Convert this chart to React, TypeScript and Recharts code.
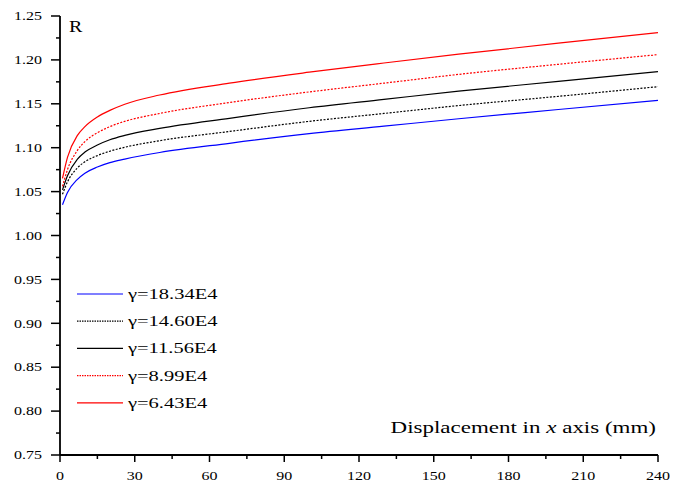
import { LineChart, Line, XAxis, YAxis, Legend, Label } from 'recharts';

// displacement along x (mm) where the curves were read
const xValues = [1, 3, 7, 10, 15, 20, 26, 40, 68, 100, 130, 160, 200, 240];

// R for each gamma
const g1834 = [1.035, 1.049, 1.064, 1.071, 1.078, 1.083, 1.087, 1.0945, 1.105, 1.116, 1.1245, 1.133, 1.1435, 1.154];
const g1460 = [1.047, 1.061, 1.077, 1.084, 1.091, 1.096, 1.1005, 1.108, 1.1185, 1.13, 1.139, 1.148, 1.1585, 1.1695];
const g1156 = [1.052, 1.068, 1.087, 1.095, 1.103, 1.109, 1.114, 1.122, 1.1335, 1.1455, 1.155, 1.1645, 1.1755, 1.1866];
const g899 = [1.056, 1.075, 1.097, 1.107, 1.117, 1.124, 1.13, 1.139, 1.1515, 1.1635, 1.1735, 1.1835, 1.195, 1.206];
const g643 = [1.065, 1.089, 1.114, 1.124, 1.135, 1.1425, 1.1495, 1.16, 1.1735, 1.186, 1.1965, 1.2065, 1.219, 1.231];

const xTicks = [0, 15, 30, 45, 60, 75, 90, 105, 120, 135, 150, 165, 180, 195, 210, 225, 240];
const yTicks = [
  0.75, 0.775, 0.8, 0.825, 0.85, 0.875, 0.9, 0.925, 0.95, 0.975, 1.0,
  1.025, 1.05, 1.075, 1.1, 1.125, 1.15, 1.175, 1.2, 1.225, 1.25,
];

const series = [
  { key: 'g1834', label: 'γ=18.34E4', values: g1834, color: '#0000ff', dash: undefined },
  { key: 'g1460', label: 'γ=14.60E4', values: g1460, color: '#000000', dash: '2 1.5' },
  { key: 'g1156', label: 'γ=11.56E4', values: g1156, color: '#000000', dash: undefined },
  { key: 'g899', label: 'γ=8.99E4', values: g899, color: '#ff0000', dash: '2 1.5' },
  { key: 'g643', label: 'γ=6.43E4', values: g643, color: '#ff0000', dash: undefined },
];

const data = xValues.map((x, i) => {
  const row: Record<string, number> = { x };
  series.forEach(s => { row[s.key] = s.values[i]; });
  return row;
});

const FONT = '"Liberation Serif", "Times New Roman", serif';
const SQ = 0.76; // the original text is a bit squashed vertically

function YTick({ x, y, payload }: any) {
  const v = payload.value;
  const major = Math.round(v * 1000) % 50 === 0;
  return (
    <g>
      <line x1={x} x2={x - (major ? 9 : 4)} y1={y} y2={y} stroke="#000" strokeWidth={1.5} />
      {major && (
        <text transform={`translate(${x - 18},${y + 4.2}) scale(1,${SQ})`} textAnchor="end"
          fontSize={16} fontFamily={FONT} fill="#000">
          {v.toFixed(2)}
        </text>
      )}
    </g>
  );
}

function XTick({ x, y, payload }: any) {
  const v = payload.value;
  const major = v % 30 === 0;
  return (
    <g>
      <line x1={x} x2={x} y1={y} y2={y + (major ? 7 : 4)} stroke="#000" strokeWidth={1.5} />
      {major && (
        <text transform={`translate(${x},${y + 25}) scale(1,${SQ})`} textAnchor="middle"
          fontSize={16} fontFamily={FONT} fill="#000">
          {v}
        </text>
      )}
    </g>
  );
}

function LegendBox() {
  return (
    <svg width={170} height={140}>
      {series.map((s, i) => {
        const cy = 14 + i * 27.2;
        return (
          <g key={s.key}>
            <line x1={7} x2={53} y1={cy} y2={cy} stroke={s.color} strokeWidth={1.2}
              strokeDasharray={s.dash ? '1.5 1' : undefined} />
            <text transform={`translate(58,${cy + 5}) scale(1,${SQ})`} fontSize={20.5}
              fontFamily={FONT} fill="#000">
              {s.label}
            </text>
          </g>
        );
      })}
    </svg>
  );
}

export default function App() {
  return (
    <div style={{ position: 'absolute', left: 0, top: 0, width: 673, height: 490, background: '#fff' }}>
      <LineChart width={673} height={490} data={data} margin={{ top: 16, right: 15, bottom: 0, left: 0 }}>
        <XAxis dataKey="x" type="number" domain={[0, 240]} ticks={xTicks} interval={0}
          height={35} tickSize={0} tickMargin={0} tick={<XTick />}
          axisLine={{ stroke: '#000', strokeWidth: 1.8 }} allowDataOverflow>
          <Label content={({ viewBox }: any) => (
            <text transform={`translate(${viewBox.x + viewBox.width - 2},${viewBox.y - 22}) scale(1,${SQ})`}
              textAnchor="end" fontSize={23} fontFamily={FONT} fill="#000">
              Displacement in <tspan fontStyle="italic">x</tspan> axis (mm)
            </text>
          )} />
        </XAxis>
        <YAxis type="number" domain={[0.75, 1.25]} ticks={yTicks} interval={0}
          width={60} tickSize={0} tickMargin={0} tick={<YTick />}
          axisLine={{ stroke: '#000', strokeWidth: 1.8 }} allowDataOverflow>
          <Label content={({ viewBox }: any) => (
            <text transform={`translate(${viewBox.x + viewBox.width + 9},${viewBox.y + 16}) scale(1,0.82)`}
              fontSize={20} fontFamily={FONT} fill="#000">
              R
            </text>
          )} />
        </YAxis>
        <Legend layout="vertical" align="center" verticalAlign="middle"
          wrapperStyle={{ left: 70, top: 280, width: 170, height: 140 }}
          content={() => <LegendBox />} />
        {series.map(s => (
          <Line key={s.key} dataKey={s.key} name={s.label} type="monotone" stroke={s.color}
            strokeWidth={1.2} strokeDasharray={s.dash} dot={false} isAnimationActive={false} />
        ))}
      </LineChart>
    </div>
  );
}
